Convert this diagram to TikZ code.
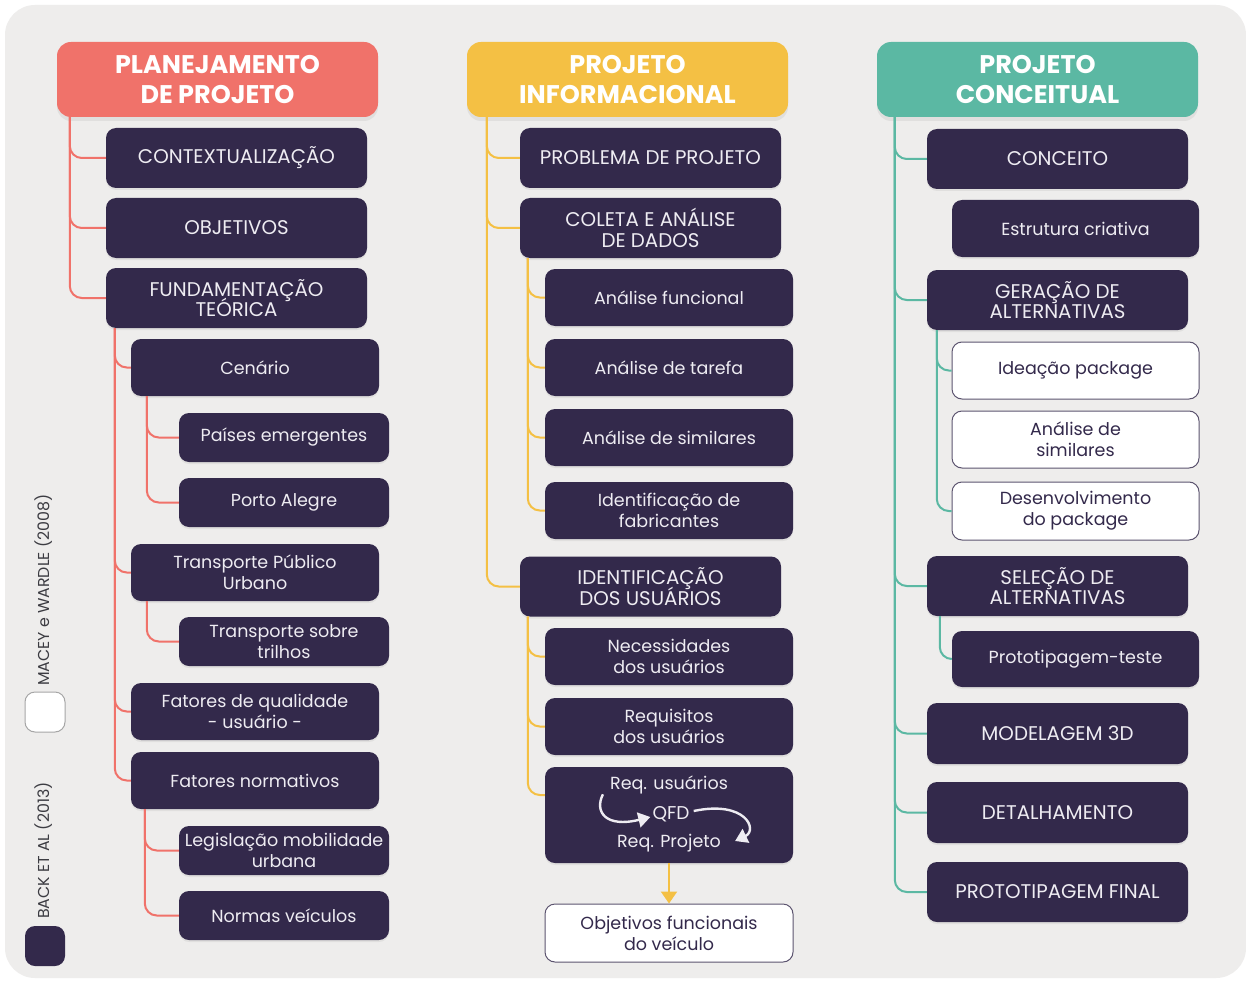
\documentclass[tikz,border=0pt]{standalone}
\usepackage{fontspec}
\setmainfont{Poppins}
\usetikzlibrary{arrows.meta,shadows}
\newcommand\tightls{\lineskiplimit=-20pt\relax}
\definecolor{bgc}{RGB}{238,237,236}
\definecolor{darkbox}{RGB}{51,41,75}
\definecolor{boxtxt}{RGB}{238,236,242}
\definecolor{hred}{RGB}{240,114,106}
\definecolor{hyel}{RGB}{244,192,68}
\definecolor{hteal}{RGB}{91,184,163}
\definecolor{legtxt}{RGB}{60,60,66}
\tikzset{
  hdr/.style={rounded corners=14pt, minimum width=321pt, minimum height=75pt, inner sep=0pt,
    align=center, text=white, font=\fontsize{25.5}{29.5}\selectfont\bfseries\tightls,
    drop shadow={shadow xshift=0pt, shadow yshift=-4pt, opacity=0.12}},
  dbox/.style={rounded corners=10pt, fill=darkbox, text=boxtxt, inner sep=0pt, align=center,
    font=\fontsize{17.5}{21}\selectfont\tightls,
    drop shadow={shadow xshift=0pt, shadow yshift=-2pt, opacity=0.12}},
  wbox/.style={rounded corners=10pt, fill=white, draw=darkbox!80, line width=1pt, text=darkbox, inner sep=0pt, align=center,
    font=\fontsize{17.5}{21}\selectfont\tightls},
  lvA/.style={minimum width=261pt, minimum height=60pt},
  lvB/.style={minimum width=248pt, minimum height=57pt},
  lvC/.style={minimum width=210pt, minimum height=49pt},
  capsf/.style={font=\fontsize{19.8}{20.5}\selectfont\tightls},
  qtext/.style={text=boxtxt, inner sep=2pt, font=\fontsize{17.5}{21}\selectfont},
  rline/.style={draw=hred, line width=2pt, rounded corners=12pt},
  yline/.style={draw=hyel, line width=2pt, rounded corners=12pt},
  tline/.style={draw=hteal, line width=2pt, rounded corners=12pt},
  warrow/.style={draw=boxtxt, line width=2.4pt, -{Triangle[width=15pt,length=12pt]}},
  legtext/.style={rotate=90, anchor=west, text=legtxt, inner sep=0pt, font=\fontsize{15.8}{18}\selectfont}
}
\begin{document}
\begin{tikzpicture}[x=1pt,y=-1pt]
\useasboundingbox (0,0) rectangle (1246,984);
\fill[white] (0,0) rectangle (1246,984);
\fill[bgc, rounded corners=30pt] (5,5) rectangle (1246,978);

% ---------- Column 1 ----------
\node[hdr, fill=hred] (h1) at (217.5,79.5) {PLANEJAMENTO\\DE PROJETO};
\node[dbox, lvA, capsf] (ctx) at (236.5,158) {CONTEXTUALIZAÇÃO};
\node[dbox, lvA, capsf] (obj) at (236.5,228) {OBJETIVOS};
\node[dbox, lvA, capsf] (fund) at (236.5,298) {FUNDAMENTAÇÃO\\TEÓRICA};
\node[dbox, lvB] (cen) at (255,367.5) {Cenário};
\node[dbox, lvC] (pai) at (284,437.5) {Países emergentes};
\node[dbox, lvC] (poa) at (284,502.5) {Porto Alegre};
\node[dbox, lvB] (tpu) at (255,572.5) {Transporte Público\\Urbano};
\node[dbox, lvC] (tst) at (284,641.5) {Transporte sobre\\trilhos};
\node[dbox, lvB] (fq) at (255,711.5) {Fatores de qualidade\\- usuário -};
\node[dbox, lvB] (fn) at (255,780.5) {Fatores normativos};
\node[dbox, lvC] (leg) at (284,850.5) {Legislação mobilidade\\urbana};
\node[dbox, lvC] (nv) at (284,915.5) {Normas veículos};

\foreach \c in {ctx,obj,fund} \draw[rline] ([xshift=13pt]h1.south west) |- (\c.west);
\foreach \c in {cen,tpu,fq,fn} \draw[rline] ([xshift=9pt]fund.south west) |- (\c.west);
\foreach \c in {pai,poa} \draw[rline] ([xshift=16pt]cen.south west) |- (\c.west);
\draw[rline] ([xshift=16pt]tpu.south west) |- (tst.west);
\foreach \c in {leg,nv} \draw[rline] ([xshift=14pt]fn.south west) |- (\c.west);

% ---------- Column 2 ----------
\node[hdr, fill=hyel] (h2) at (627.5,79.5) {PROJETO\\INFORMACIONAL};
\node[dbox, lvA, capsf] (prob) at (650.5,158) {PROBLEMA DE PROJETO};
\node[dbox, lvA, capsf] (cole) at (650.5,228) {COLETA E ANÁLISE\\DE DADOS};
\node[dbox, lvB] (af) at (669,297.5) {Análise funcional};
\node[dbox, lvB] (atar) at (669,367.5) {Análise de tarefa};
\node[dbox, lvB] (asim) at (669,437.5) {Análise de similares};
\node[dbox, lvB] (idf) at (669,510.5) {Identificação de\\fabricantes};
\node[dbox, lvA, capsf] (idu) at (650.5,586.5) {IDENTIFICAÇÃO\\DOS USUÁRIOS};
\node[dbox, lvB] (nec) at (669,656.5) {Necessidades\\dos usuários};
\node[dbox, lvB] (requ) at (669,726.5) {Requisitos\\dos usuários};
\node[dbox, minimum width=248pt, minimum height=96pt] (qbox) at (669,815) {};
\node[qtext] (ru) at (669,785) {Req. usuários};
\node[qtext, font=\fontsize{18.5}{21}\selectfont] (qfd) at (671,814) {QFD};
\node[qtext] (rp) at (669,843) {Req. Projeto};
\draw[warrow] ([xshift=-5pt,yshift=2pt]ru.south west) .. controls (594,812) and (606,828) .. ([xshift=0pt,yshift=-3pt]qfd.west);
\draw[warrow] ([xshift=2pt,yshift=3pt]qfd.east) .. controls (746,800) and (758,830) .. ([xshift=12pt,yshift=2pt]rp.east);
\node[wbox, minimum width=248pt, minimum height=58pt] (obf) at (669,933) {Objetivos funcionais\\do veículo};

\foreach \c in {prob,cole,idu} \draw[yline] ([xshift=20pt]h2.south west) |- (\c.west);
\foreach \c in {af,atar,asim,idf} \draw[yline] ([xshift=8pt]cole.south west) |- (\c.west);
\foreach \c in {nec,requ} \draw[yline] ([xshift=8pt]idu.south west) |- (\c.west);
\draw[yline] ([xshift=8pt]idu.south west) |- ([yshift=20pt]qbox.west);
\draw[draw=hyel, line width=2.2pt, -{Triangle[width=16pt,length=12pt]}] (qbox.south) -- (obf.north);

% ---------- Column 3 ----------
\node[hdr, fill=hteal] (h3) at (1037.5,79.5) {PROJETO\\CONCEITUAL};
\node[dbox, lvA, capsf] (conc) at (1057.5,159) {CONCEITO};
\node[dbox, minimum width=247pt, minimum height=57pt] (estr) at (1075.5,228.5) {Estrutura criativa};
\node[dbox, lvA, capsf] (ger) at (1057.5,300) {GERAÇÃO DE\\ALTERNATIVAS};
\node[wbox, minimum width=247pt, minimum height=57pt] (idp) at (1075.5,370.5) {Ideação package};
\node[wbox, minimum width=247pt, minimum height=57pt] (asi2) at (1075.5,439.5) {Análise de\\similares};
\node[wbox, minimum width=247pt, minimum height=58pt] (dpk) at (1075.5,511) {Desenvolvimento\\do package};
\node[dbox, lvA, capsf] (sel) at (1057.5,586) {SELEÇÃO DE\\ALTERNATIVAS};
\node[dbox, minimum width=247pt, minimum height=56pt] (ptt) at (1075.5,659) {Prototipagem-teste};
\node[dbox, lvA, capsf, minimum height=61pt] (mod) at (1057.5,733.5) {MODELAGEM 3D};
\node[dbox, lvA, capsf, minimum height=61pt] (det) at (1057.5,812.5) {DETALHAMENTO};
\node[dbox, lvA, capsf] (pfin) at (1057.5,892) {PROTOTIPAGEM FINAL};

\foreach \c in {conc,ger,sel,mod,det,pfin} \draw[tline] ([xshift=18pt]h3.south west) |- (\c.west);
\foreach \c in {idp,dpk} \draw[tline] ([xshift=10pt]ger.south west) |- (\c.west);
\draw[tline] ([xshift=13pt]sel.south west) |- (ptt.west);

% ---------- Legend ----------
\node[fill=white, draw=gray!70, line width=1pt, rounded corners=10pt, minimum size=40pt, inner sep=0pt] (lw) at (45,712) {};
\node[fill=darkbox, rounded corners=10pt, minimum size=40pt, inner sep=0pt] (ld) at (45,946) {};
\node[legtext] (lwt) at (44,686) {MACEY e WARDLE (2008)};
\node[legtext] (ldt) at (44,919) {BACK ET AL (2013)};
\end{tikzpicture}
\end{document}
